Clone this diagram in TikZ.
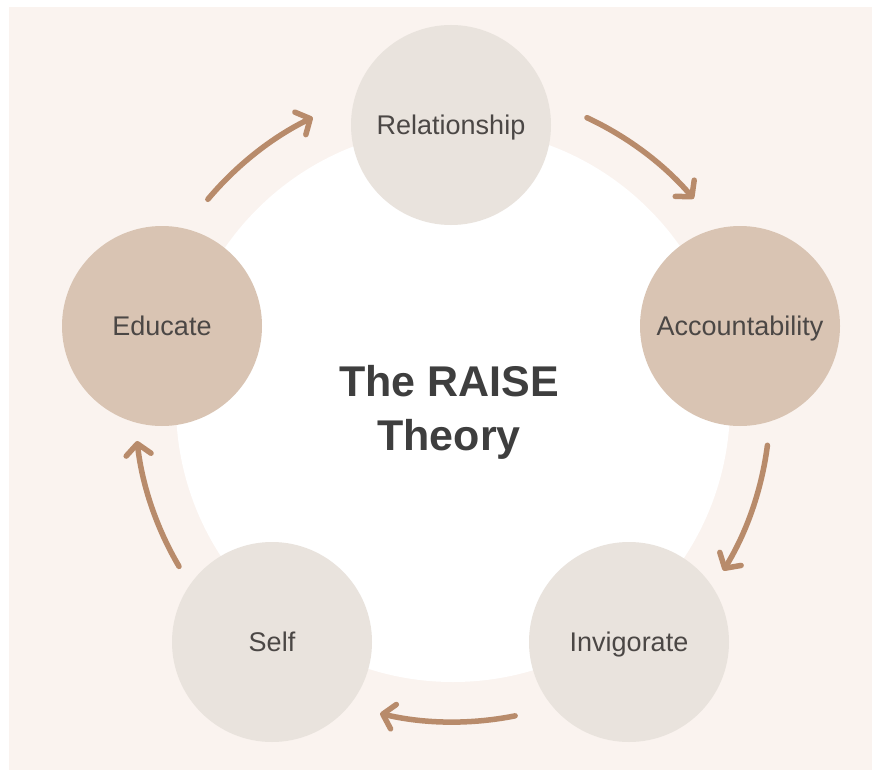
\documentclass[tikz,border=0pt]{standalone}
\usepackage{fontspec}
\setmainfont{Liberation Sans}
\usetikzlibrary{arrows.meta,calc}

\definecolor{bgpink}{HTML}{FAF3EF}
\definecolor{stagelight}{HTML}{E9E3DD}
\definecolor{stagetan}{HTML}{D9C4B3}
\definecolor{labelgray}{HTML}{4B4745}
\definecolor{titlegray}{HTML}{3E3E3E}
\definecolor{arrowbrown}{HTML}{B88B6B}

\begin{document}
\begin{tikzpicture}[x=1pt,y=1pt,
  stage/.style={circle, minimum size=200pt, inner sep=0pt, text=labelgray,
    font=\fontsize{27}{30}\selectfont, text height=19pt, text depth=0pt},
  lightstage/.style={stage, fill=stagelight},
  tanstage/.style={stage, fill=stagetan},
  flow/.style={draw=arrowbrown, line width=5.5pt, line cap=round,
    -{Straight Barb[length=11pt,width=25pt,line cap=round,line join=round]}}]

  % page and background panel
  \useasboundingbox (0,0) rectangle (872,-770);
  \fill[white] (0,0) rectangle (872,-770);
  \fill[bgpink] (9,-7) rectangle (873,-771);

  % central disc
  \coordinate (ctr) at (453,-405);
  \fill[white] (ctr) circle (277);

  % the five stages
  \node[lightstage] (rel) at (451,-125) {Relationship};
  \node[tanstage]   (acc) at (740,-326) {Accountability};
  \node[lightstage] (inv) at (629,-642) {Invigorate};
  \node[lightstage] (slf) at (272,-642) {Self};
  \node[tanstage]   (edu) at (162,-326) {Educate};

  % title (anchored on the baseline of its last line)
  \node[text=titlegray, font=\fontsize{43}{54}\selectfont\bfseries, align=center, anchor=base]
    (title) at (449,-450) {The RAISE\\Theory};

  % cycle arrows, all on one ring around the centre
  \coordinate (f1) at ($(ctr)+(140:320)$);
  \coordinate (f2) at ($(ctr)+(65:317)$);
  \coordinate (f3) at ($(ctr)+(-7.3:317)$);
  \coordinate (f4) at ($(ctr)+(-78.7:317)$);
  \coordinate (f5) at ($(ctr)+(-149.5:318)$);
  \draw[flow] (f1) arc[start angle=140, end angle=116, radius=320];
  \draw[flow] (f2) arc[start angle=65, end angle=40.6, radius=317];
  \draw[flow] (f3) arc[start angle=-7.3, end angle=-31.5, radius=317];
  \draw[flow] (f4) arc[start angle=-78.7, end angle=-103.3, radius=317];
  \draw[flow] (f5) arc[start angle=-149.5, end angle=-173.5, radius=318];
\end{tikzpicture}
\end{document}
